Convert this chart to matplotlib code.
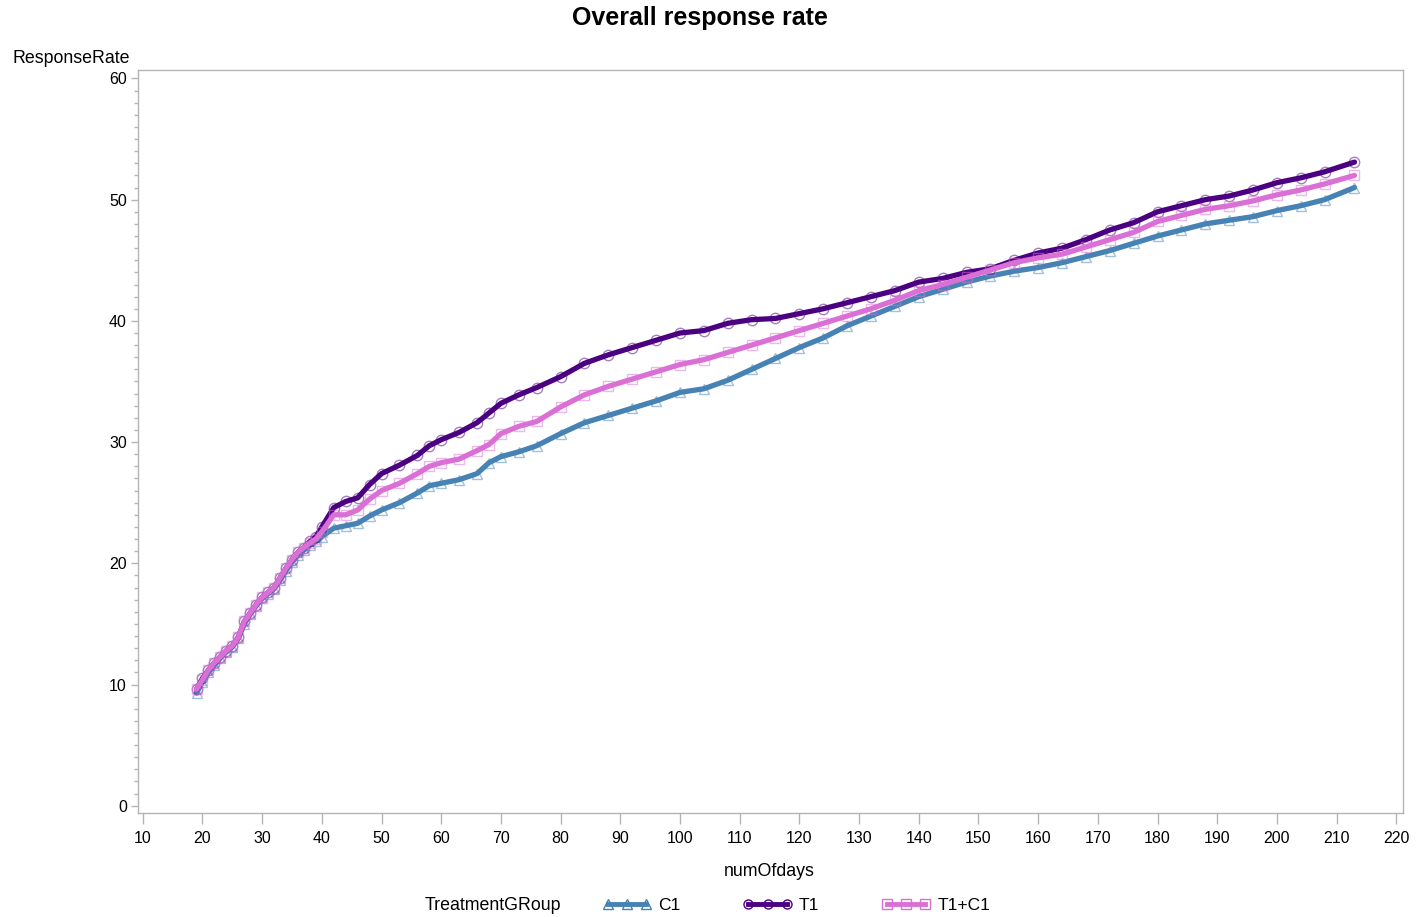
import matplotlib
matplotlib.use("Agg")
import matplotlib.pyplot as plt
from matplotlib.lines import Line2D
from matplotlib.ticker import MultipleLocator

plt.rcParams['font.family'] = ['Liberation Sans', 'DejaVu Sans']

# Day of follow-up at which the cumulative response rate was evaluated
days = [19, 20, 21, 22, 23, 24, 25, 26, 27, 28, 29, 30, 31, 32, 33, 34, 35, 36, 37, 38, 39, 40,
        42, 44, 46, 48, 50, 53, 56, 58, 60, 63, 66, 68, 70, 73, 76,
        80, 84, 88, 92, 96, 100, 104, 108, 112, 116, 120, 124, 128, 132, 136, 140,
        144, 148, 152, 156, 160, 164, 168, 172, 176, 180, 184, 188, 192, 196, 200, 204, 208, 213]

c1 = [9.3, 10.2, 11.0, 11.6, 12.2, 12.7, 13.1, 13.8, 15.0, 15.8, 16.5, 17.1, 17.5, 17.9, 18.6, 19.4, 20.1, 20.7, 21.1, 21.5, 21.8, 22.2,
      22.9, 23.1, 23.3, 23.9, 24.4, 25.0, 25.8, 26.4, 26.6, 26.9, 27.4, 28.3, 28.8, 29.2, 29.7,
      30.7, 31.6, 32.2, 32.8, 33.4, 34.1, 34.4, 35.1, 36.0, 36.9, 37.8, 38.6, 39.6, 40.4, 41.2, 42.0,
      42.6, 43.2, 43.7, 44.1, 44.4, 44.8, 45.3, 45.8, 46.4, 47.0, 47.5, 48.0, 48.3, 48.6, 49.1, 49.5, 50.0, 51.0]

t1 = [9.6, 10.5, 11.2, 11.8, 12.3, 12.8, 13.2, 13.9, 15.2, 15.9, 16.6, 17.2, 17.6, 18.0, 18.8, 19.6, 20.3, 20.9, 21.3, 21.8, 22.2, 23.0,
      24.6, 25.1, 25.4, 26.5, 27.4, 28.1, 28.9, 29.7, 30.2, 30.8, 31.6, 32.4, 33.2, 33.9, 34.5,
      35.4, 36.5, 37.2, 37.8, 38.4, 39.0, 39.2, 39.8, 40.1, 40.2, 40.6, 41.0, 41.5, 42.0, 42.5, 43.2,
      43.5, 44.0, 44.3, 45.0, 45.6, 46.0, 46.7, 47.5, 48.1, 49.0, 49.5, 50.0, 50.3, 50.8, 51.4, 51.8, 52.3, 53.1]

t1c1 = [9.6, 10.4, 11.2, 11.8, 12.3, 12.8, 13.2, 13.9, 15.2, 15.9, 16.6, 17.2, 17.6, 18.0, 18.8, 19.6, 20.3, 20.9, 21.3, 21.7, 22.0, 22.6,
        24.0, 24.0, 24.4, 25.3, 26.0, 26.6, 27.4, 28.0, 28.3, 28.6, 29.3, 29.8, 30.7, 31.3, 31.7,
        32.9, 33.9, 34.6, 35.2, 35.8, 36.4, 36.8, 37.4, 38.0, 38.6, 39.2, 39.8, 40.4, 41.0, 41.7, 42.5,
        43.0, 43.6, 44.2, 44.8, 45.2, 45.5, 46.1, 46.7, 47.3, 48.2, 48.7, 49.2, 49.5, 49.9, 50.4, 50.8, 51.3, 52.0]

groups = ["C1", "T1", "T1+C1"]
series = [c1, t1, t1c1]
colors = ["#4682B4", "#4B0082", "#DA70D6"]
markers = ["^", "o", "s"]

fig = plt.figure(figsize=(14.17, 9.17), dpi=100)
ax = fig.add_axes([0.0974, 0.1134, 0.8926, 0.8103])

for name, vals, col, mk in zip(groups, series, colors, markers):
    ax.plot(days, vals, color=col, lw=3.8, solid_capstyle='round',
            solid_joinstyle='round', zorder=3)
    ax.plot(days, vals, ls='none', marker=mk, ms=7.5, mfc='none', mec=col,
            mew=1.0, alpha=0.5, zorder=3)

ax.set_xlim(9.2, 221.1)
ax.set_ylim(-0.6, 60.7)
ax.xaxis.set_major_locator(MultipleLocator(10))
ax.yaxis.set_major_locator(MultipleLocator(10))
ax.yaxis.set_minor_locator(MultipleLocator(1))

for sp in ax.spines.values():
    sp.set_color('#b4b4b4')
    sp.set_linewidth(1.0)
ax.tick_params(axis='both', which='major', colors='#b4b4b4', labelcolor='black',
               labelsize=11.5, width=1.0)
ax.tick_params(axis='x', which='major', length=8, pad=5)
ax.tick_params(axis='y', which='major', length=5, pad=3)
ax.tick_params(axis='y', which='minor', colors='#b4b4b4', length=3, width=1.0)

fig.text(0.0085, 0.936, "ResponseRate", fontsize=12.8, ha='left', va='center')
fig.text(0.543, 0.050, "numOfdays", fontsize=12.8, ha='center', va='center')
fig.text(0.494, 0.980, "Overall response rate", fontsize=18, fontweight='bold',
         ha='center', va='center')

# Legend row under the plot
fig.text(0.300, 0.012, "TreatmentGRoup", fontsize=12.8, ha='left', va='center')
handles = [Line2D([0], [0], color=c, lw=3.5, marker=m, ms=6.5, mfc='none', mec=c)
           for c, m in zip(colors, markers)]
leg = fig.legend(handles, groups, loc='center left', bbox_to_anchor=(0.4145, 0.013),
                 ncol=3, frameon=False, fontsize=12.5, handlelength=2.8, numpoints=3,
                 columnspacing=3.6, handletextpad=0.4)

fig.savefig("out.png", dpi=100, facecolor='white')
